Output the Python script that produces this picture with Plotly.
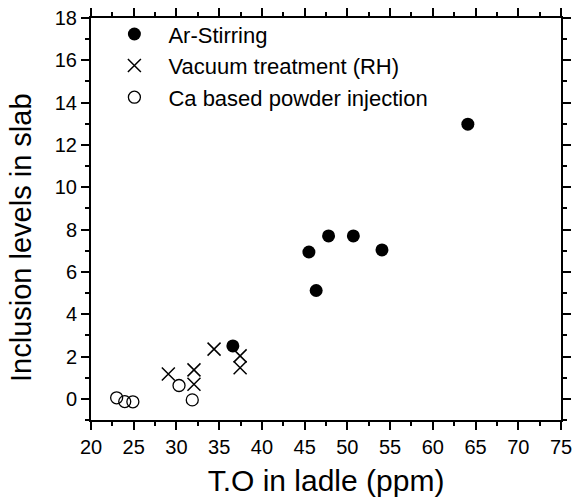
import plotly.graph_objects as go

# Ar-Stirring
ar_x = [36.6, 45.5, 46.35, 47.8, 50.7, 54.05, 64.1]
ar_y = [2.5, 6.94, 5.12, 7.7, 7.7, 7.04, 12.98]
# Vacuum treatment (RH)
rh_x = [29.05, 32.05, 32.05, 34.4, 37.45, 37.45]
rh_y = [1.17, 1.37, 0.69, 2.35, 2.03, 1.47]
# Ca based powder injection
ca_x = [23.0, 23.95, 24.9, 30.3, 31.85]
ca_y = [0.05, -0.13, -0.14, 0.63, -0.05]

FONT = "Liberation Sans, Arial, sans-serif"

fig = go.Figure()
fig.add_trace(go.Scatter(x=ar_x, y=ar_y, mode="markers", name="Ar-Stirring",
                         marker=dict(symbol="circle", size=13, color="black",
                                     line=dict(width=0))))
fig.add_trace(go.Scatter(x=rh_x, y=rh_y, mode="markers", name="Vacuum treatment (RH)",
                         marker=dict(symbol="x-thin-open", size=13, color="black",
                                     line=dict(width=1.5, color="black"))))
fig.add_trace(go.Scatter(x=ca_x, y=ca_y, mode="markers", name="Ca based powder injection",
                         marker=dict(symbol="circle-open", size=12, color="black",
                                     line=dict(width=1.3, color="black"))))

axis_common = dict(
    showline=True, linecolor="black", linewidth=2, mirror="allticks",
    ticks="outside", ticklen=8, tickwidth=2, tickcolor="black",
    showgrid=False, zeroline=False, automargin=False,
    tickfont=dict(family=FONT, size=20, color="black"),
)

fig.update_xaxes(range=[20, 75], tick0=20, dtick=5,
                 minor=dict(dtick=2.5, ticks="outside", ticklen=4, tickwidth=2, tickcolor="black"),
                 title=dict(text="T.O in ladle (ppm)", font=dict(family=FONT, size=30, color="black"),
                            standoff=13),
                 **axis_common)
fig.update_yaxes(range=[-1, 18], tick0=0, dtick=2,
                 minor=dict(dtick=1, ticks="outside", ticklen=4, tickwidth=2, tickcolor="black"),
                 **axis_common)

fig.add_annotation(text="Inclusion levels in slab", textangle=-90,
                   xref="paper", yref="paper", x=(21 - 91) / 470, y=(420 - 238) / 402,
                   xanchor="center", yanchor="middle", showarrow=False,
                   font=dict(family=FONT, size=29, color="black"))

fig.update_layout(
    width=576, height=499,
    margin=dict(l=91, r=15, t=18, b=79),
    paper_bgcolor="white", plot_bgcolor="white",
    font=dict(family=FONT, color="black"),
    legend=dict(x=0.02, y=1.012, xanchor="left", yanchor="top",
                bgcolor="rgba(0,0,0,0)", borderwidth=0, itemwidth=58,
                font=dict(family=FONT, size=22, color="black")),
    showlegend=True,
)

fig.write_html("out.html", config={"displayModeBar": False},
               post_script="document.body.style.margin='0';")
